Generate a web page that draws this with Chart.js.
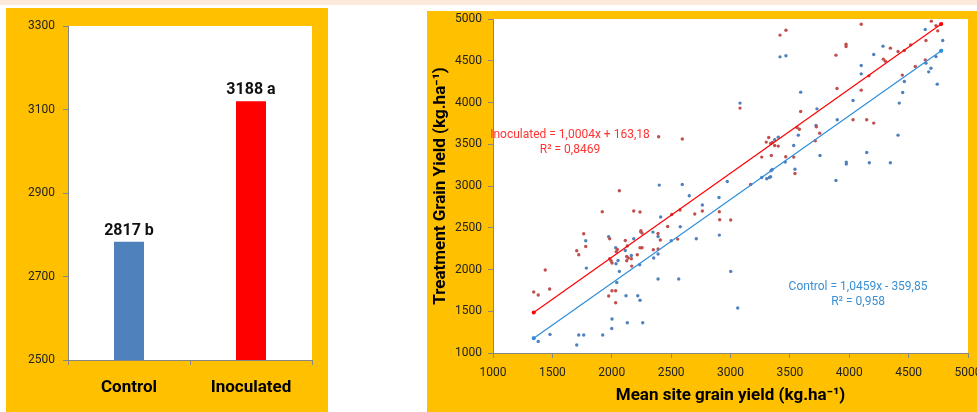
<!DOCTYPE html>
<html>
<head>
<meta charset="utf-8">
<script src="https://cdn.jsdelivr.net/npm/chart.js@4.4.0/dist/chart.umd.min.js"></script>
<style>
  body { margin: 0; width: 977px; height: 412px; background: #fff; position: relative; overflow: hidden; font-family: Roboto, sans-serif; }
  #strip { position: absolute; left: 0; top: 0; width: 977px; height: 5px; background: #fde9db; }
  #barBox { position: absolute; left: 6px; top: 8px; width: 322px; height: 404px; background: #ffc000; }
  #scatterBox { position: absolute; left: 427px; top: 11px; width: 550px; height: 401px; background: #ffc000; }
</style>
</head>
<body>
<div id="strip"></div>
<div id="barBox"><canvas id="barChart" width="322" height="404"></canvas></div>
<div id="scatterBox"><canvas id="scatterChart" width="550" height="401"></canvas></div>
<script>
// bar panel
const barCategories = ['Control', 'Inoculated']
const barValues = [2783, 3120]
const barLabels = ['2817 b', '3188 a']
const barColors = ['#4f81bd', '#ff0000']

// scatter panel: [mean site yield, treatment yield]
const inoculatedPoints = [
  [1343,1486],[1343,1730],[1381,1694],[1440,1994],[1477,1766],[1705,2225],[1722,2177],[1764,2428],
  [1781,2276],[1920,2691],[1974,1682],[1983,2368],[1983,2129],[1994,2105],[2002,2077],[2002,1746],
  [2033,1746],[2033,1602],[2038,2213],[2047,2240],[2064,2943],[2114,2348],[2126,2156],[2126,2105],
  [2131,2281],[2139,2137],[2165,2129],[2168,2041],[2185,2700],[2215,2177],[2238,2688],[2238,2260],
  [2255,2260],[2246,2464],[2255,2436],[2350,2236],[2390,2245],[2390,2432],[2409,2353],[2395,3589],
  [2471,2515],[2505,2659],[2555,2364],[2575,2712],[2594,3562],[2699,2664],[2763,2700],[2906,2691],
  [2909,2596],[3002,2592],[3170,3018],[3263,3346],[3344,3365],[3465,3350],[3532,3346],[3543,3150],
  [3301,3526],[3322,3581],[3338,3509],[3352,3521],[3372,3485],[3402,3478],[3560,3700],[3580,3680],
  [3714,3541],[3751,3633],[3723,3709],[3417,4807],[3467,4866],[3080,3933],[3591,3892],[3897,4167],
  [3888,4567],[3973,4699],[3973,4670],[4101,4938],[4032,3793],[4147,3793],[4206,3753],[4101,4148],
  [4166,4319],[4287,4519],[4304,4495],[4346,4651],[4411,4610],[4464,4622],[4517,4690],[4447,4328],
  [4556,4431],[4640,4511],[4646,4742],[4691,4974],[4730,4921],[4745,4858],[4770,4938]
]
const controlPoints = [
  [1343,1180],[1381,1139],[1480,1223],[1705,1096],[1722,1215],[1764,1215],[1786,2017],[1781,2344],
  [1924,1215],[2000,1294],[2002,1407],[2042,1845],[2064,1977],[2036,2069],[2120,1686],[2131,1363],
  [2219,1686],[2238,1632],[2235,2057],[2261,1363],[2390,1886],[2564,1886],[2400,3011],[2594,3018],
  [1974,2392],[2033,2260],[2053,2108],[2114,2228],[2185,2368],[2165,2168],[2244,2452],[2347,2448],
  [2390,2396],[2390,2185],[2353,2137],[2412,2628],[2501,2344],[2577,2512],[2653,2883],[2712,2368],
  [2763,2772],[2903,2863],[2906,2412],[2973,3054],[3002,1977],[3061,1539],[3263,3102],[3305,3086],
  [3327,3102],[3338,3110],[3341,3182],[3352,3198],[3461,3286],[3543,3202],[3532,3485],[3372,3553],
  [3402,3585],[3571,3609],[3754,3365],[3888,3066],[3975,3286],[3975,3262],[4147,3401],[4169,3278],
  [4346,3278],[4411,3609],[3417,4547],[3467,4559],[3080,3993],[3591,4124],[3728,3924],[3720,3724],
  [3899,3793],[4032,4024],[4101,4443],[4101,4343],[4206,4574],[4284,4675],[4421,3993],[4450,4120],
  [4464,4251],[4646,4471],[4669,4367],[4688,4411],[4730,4550],[4741,4220],[4640,4874],[4787,4742],
  [4770,4618]
]
const inoculatedTrend = [[1343,1486],[4775,4940]]
const controlTrend = [[1343,1176],[4775,4620]]
const inoculatedEq = ['Inoculated = 1,0004x + 163,18', 'R² = 0,8469']
const controlEq = ['Control = 1,0459x - 359,85', 'R² = 0,958']

const narrow = '"Liberation Sans Narrow", "Arial Narrow", Roboto, sans-serif'
const axisGrey = '#868686'
const plain = v => String(v)

const whitePlot = {
  id: 'whitePlot',
  beforeDraw: chart => {
    const { ctx, chartArea: a } = chart
    ctx.save()
    ctx.fillStyle = '#fff'
    ctx.fillRect(a.left, a.top, a.width, a.height)
    ctx.restore()
  }
}

const barLabelPlugin = {
  id: 'barLabelPlugin',
  afterDatasetsDraw: chart => {
    const ctx = chart.ctx
    ctx.save()
    ctx.font = 'bold 16px Roboto'
    ctx.fillStyle = '#111'
    ctx.textAlign = 'center'
    ctx.textBaseline = 'alphabetic'
    chart.getDatasetMeta(0).data.forEach((bar, i) => {
      ctx.fillText(barLabels[i], bar.x, bar.y - 7)
    })
    ctx.restore()
  }
}

const toPairs = arr => arr.map(p => ({ x: p[0], y: p[1] }))

const noPad = s => { s.paddingLeft = 0; s.paddingRight = 0; s.paddingTop = 0; s.paddingBottom = 0 }

new Chart(document.getElementById('barChart'), {
  type: 'bar',
  data: {
    labels: barCategories,
    datasets: [{
      data: barValues,
      backgroundColor: barColors,
      categoryPercentage: 1,
      barPercentage: 0.246
    }]
  },
  options: {
    responsive: false,
    animation: false,
    layout: { padding: { left: 0, top: 18, right: 16, bottom: 0 } },
    plugins: { legend: { display: false }, tooltip: { enabled: false } },
    scales: {
      x: {
        afterFit: s => { s.height = 52; noPad(s) },
        grid: { drawOnChartArea: false, tickLength: 5, color: axisGrey, offset: true },
        border: { color: axisGrey },
        ticks: { font: { family: narrow, size: 17, weight: 'bold' }, color: '#000', padding: 13 }
      },
      y: {
        min: 2500,
        max: 3300,
        afterFit: s => { s.width = 62; noPad(s) },
        grid: { drawOnChartArea: false, tickLength: 5, color: axisGrey },
        border: { color: axisGrey },
        ticks: { stepSize: 200, callback: plain, font: { family: 'Roboto', size: 12 }, color: '#222', padding: 8 }
      }
    }
  },
  plugins: [whitePlot, barLabelPlugin]
})

const eqPlugin = {
  id: 'eqPlugin',
  afterDraw: chart => {
    const { ctx, scales } = chart
    const put = (lines, color, x, y) => {
      ctx.fillStyle = color
      lines.forEach((t, i) => ctx.fillText(t, scales.x.getPixelForValue(x), scales.y.getPixelForValue(y) + i * 15))
    }
    ctx.save()
    ctx.font = '12px Roboto'
    ctx.textAlign = 'center'
    ctx.textBaseline = 'middle'
    put(inoculatedEq, '#ff3333', 1648, 3605)
    put(controlEq, '#3a8fd3', 4074, 1790)
    ctx.restore()
  }
}

new Chart(document.getElementById('scatterChart'), {
  type: 'scatter',
  data: {
    datasets: [
      {
        type: 'line', data: toPairs(inoculatedTrend), borderColor: '#ff0000', backgroundColor: '#ff0000',
        borderWidth: 1.2, pointRadius: 2, pointBorderWidth: 0
      },
      {
        type: 'line', data: toPairs(controlTrend), borderColor: '#2e8fdb', backgroundColor: '#2e8fdb',
        borderWidth: 1.2, pointRadius: 2, pointBorderWidth: 0
      },
      {
        data: toPairs(inoculatedPoints), backgroundColor: '#c0504d', borderWidth: 0, pointRadius: 1.7
      },
      {
        data: toPairs(controlPoints), backgroundColor: '#4f81bd', borderWidth: 0, pointRadius: 1.7
      }
    ]
  },
  options: {
    responsive: false,
    animation: false,
    layout: { padding: { left: 0, top: 8, right: 9, bottom: 0 } },
    plugins: { legend: { display: false }, tooltip: { enabled: false } },
    scales: {
      x: {
        type: 'linear',
        min: 1000,
        max: 5000,
        afterFit: s => { s.height = 59; noPad(s) },
        grid: { drawOnChartArea: false, tickLength: 5, color: axisGrey },
        border: { color: axisGrey },
        ticks: { stepSize: 500, callback: plain, font: { family: 'Roboto', size: 12 }, color: '#222', padding: 8 },
        title: {
          display: true, text: 'Mean site grain yield (kg.ha⁻¹)', color: '#000',
          font: { family: narrow, size: 17, weight: 'bold' }, padding: { top: 0, bottom: 6 }
        }
      },
      y: {
        min: 1000,
        max: 5000,
        afterFit: s => { s.width = 66; noPad(s) },
        grid: { drawOnChartArea: false, tickLength: 5, color: axisGrey },
        border: { color: axisGrey },
        ticks: { stepSize: 500, callback: plain, font: { family: 'Roboto', size: 12 }, color: '#222', padding: 6 },
        title: {
          display: true, text: 'Treatment Grain Yield (kg.ha⁻¹)', color: '#000',
          font: { family: narrow, size: 17, weight: 'bold' }, padding: { top: 4, bottom: 0 }
        }
      }
    }
  },
  plugins: [whitePlot, eqPlugin]
})
</script>
</body>
</html>
